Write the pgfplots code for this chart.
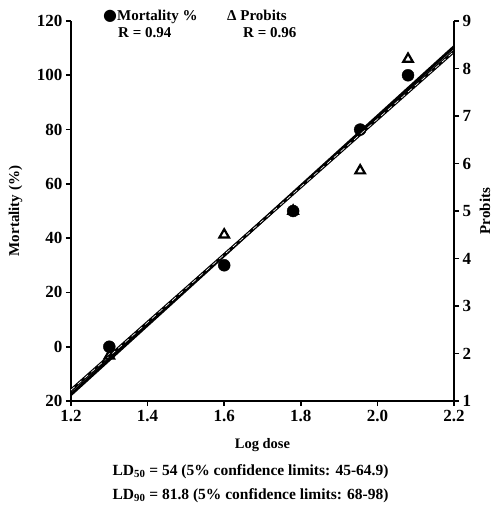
\documentclass[border=0pt]{standalone}
\usepackage{fontspec}
\setmainfont{Liberation Serif}
\newfontfamily\symfont{DejaVu Sans}
\usepackage{pgfplots}
\pgfplotsset{compat=1.18}
\begin{document}
\begin{tikzpicture}
\pgfplotsset{
  every axis/.append style={
    scale only axis, width=383pt, height=380pt,
    xmin=1.2, xmax=2.2,
    font=\bfseries\fontsize{15}{16}\selectfont,
    tick label style={font=\bfseries\fontsize{17}{18}\selectfont},
    /pgf/number format/assume math mode=true,
    axis line style={line width=1.8pt},
    every tick/.style={line width=1.8pt, black},
    major tick length=5pt,
    tick align=outside,
    clip=false,
  }
}
% mortality (left axis)
\begin{axis}[name=ax,
  axis x line*=bottom, axis y line*=left,
  ymin=-20, ymax=120, ytick={-20,0,20,40,60,80,100,120},
  yticklabels={20,0,20,40,60,80,100,120},
  xtick={1.2,1.4,1.6,1.8,2.0,2.2},
  xticklabels={1.2,1.4,1.6,1.8,2.0,2.2},
  xticklabel style={yshift=-1pt},
  ylabel={Mortality (\%)},
  ylabel style={at={(axis description cs:-0.118,0.5)}, anchor=south},
]
\addplot[black, line width=3pt] coordinates {(1.2,-17.6) (2.2,110.5)};
\addplot[only marks, mark=*, mark size=6pt, black] coordinates {
  (1.3,0) (1.6,30) (1.78,50) (1.955,80) (2.08,100)};
\end{axis}
% probits (right axis)
\begin{axis}[name=ax2,
  axis x line=none, axis y line*=right,
  ymin=1, ymax=9, ytick={1,2,...,9},
  ylabel={Probits},
  ylabel style={at={(axis description cs:1.058,0.5)}, anchor=north},
]
\addplot[black, line width=3pt] coordinates {(1.2,1.23) (2.2,8.36)};
\addplot[white, line width=0.6pt, dash pattern=on 5pt off 4pt] coordinates {(1.2,1.23) (2.2,8.36)};
\addplot[only marks, mark=triangle, mark size=5.5pt, black,
  mark options={line width=2.2pt}] coordinates {
  (1.3,1.95) (1.6,4.5) (1.78,5.0) (1.955,5.85) (2.08,8.2)};
\end{axis}
\begin{scope}[every node/.style={font=\bfseries\fontsize{15}{16}\selectfont, inner sep=0pt}]
\node[anchor=base west] at ([shift={(32pt,0pt)}]ax.north west) {{\symfont\fontsize{16}{16}\selectfont ●}Mortality \%};
\node[anchor=base west] at ([shift={(47pt,-17pt)}]ax.north west) {R = 0.94};
\node[anchor=base west] at ([shift={(156pt,0pt)}]ax.north west) {Δ Probits};
\node[anchor=base west] at ([shift={(172pt,-17pt)}]ax.north west) {R = 0.96};
\node[anchor=base, font=\bfseries\fontsize{14.5}{16}\selectfont] at ([shift={(0pt,-47pt)}]ax.south) {Log dose};
\node[anchor=base, font=\bfseries\fontsize{15.5}{16}\selectfont] at ([shift={(-12pt,-74pt)}]ax.south) {LD\textsubscript{50} = 54 (5\% confidence limits: 45-64.9)};
\node[anchor=base, font=\bfseries\fontsize{15.5}{16}\selectfont] at ([shift={(-12pt,-98pt)}]ax.south) {LD\textsubscript{90} = 81.8 (5\% confidence limits: 68-98)};
\end{scope}
\pgfresetboundingbox
\path[use as bounding box] ([shift={(-71pt,-111pt)}]ax.south west) rectangle ([shift={(39pt,21pt)}]ax.north east);
\end{tikzpicture}
\end{document}
